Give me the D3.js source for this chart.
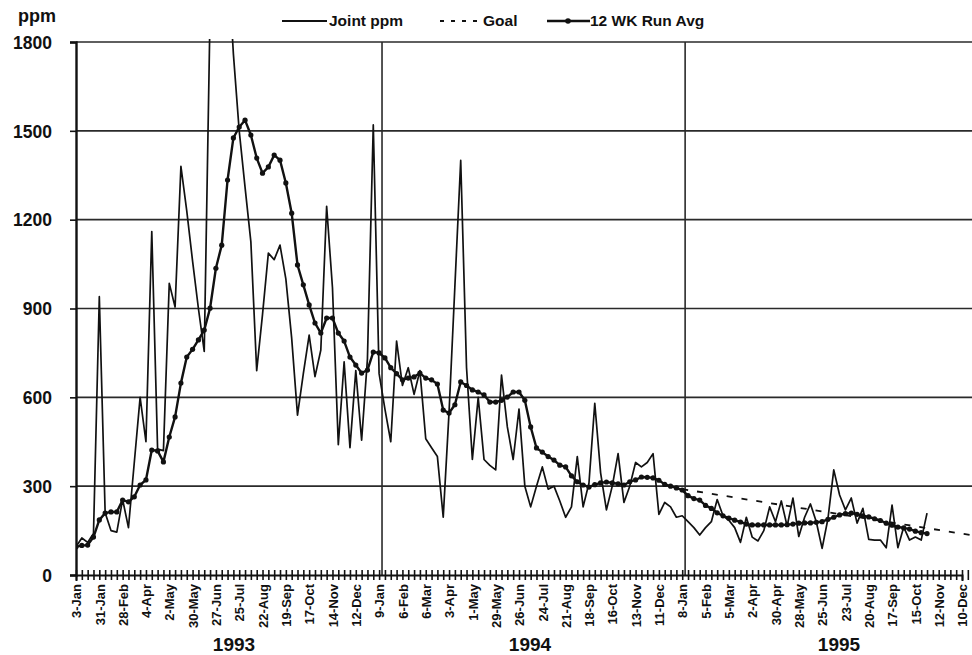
<!DOCTYPE html>
<html>
<head>
<meta charset="utf-8">
<script src="https://cdn.jsdelivr.net/npm/d3@7/dist/d3.min.js"></script>
<style>
  body { margin: 0; background: #fff; }
  text { font-family: "Liberation Sans", Arial, sans-serif; font-weight: bold; fill: #111; }
</style>
</head>
<body>
<script>
// x tick labels, one every 4 weekly categories
var tickLabels = [
  "3-Jan", "31-Jan", "28-Feb", "4-Apr", "2-May", "30-May", "27-Jun", "25-Jul", "22-Aug", "19-Sep", "17-Oct", "14-Nov", "12-Dec",
  "9-Jan", "6-Feb", "6-Mar", "3-Apr", "1-May", "29-May", "26-Jun", "24-Jul", "21-Aug", "18-Sep", "16-Oct", "13-Nov", "11-Dec",
  "8-Jan", "5-Feb", "5-Mar", "2-Apr", "30-Apr", "28-May", "25-Jun", "23-Jul", "20-Aug", "17-Sep", "15-Oct", "12-Nov", "10-Dec"
];
var yearLabels = ["1993", "1994", "1995"];
var yTicks = [0, 300, 600, 900, 1200, 1500, 1800];

// weekly joint ppm (values above 1800 run off the top of the chart)
var jointPpm = [
  95, 125, 110, 140, 940, 210, 150, 145, 255, 160,
  380, 600, 450, 1160, 425, 420, 985, 905, 1380, 1230,
  1060, 900, 755, 1900, 2300, 2300, 2100, 1760, 1500, 1310,
  1125, 690, 880, 1087, 1065, 1114, 1000, 800, 540, 680,
  810, 670, 760, 1245, 970, 440, 720, 430, 690, 455,
  730, 1520, 680, 560, 450, 790, 640, 700, 610, 690,
  460, 430, 400, 195, 550, 975, 1400, 700, 390, 600,
  390, 370, 355, 675, 500, 390, 560, 300, 230, 300,
  365, 290, 300, 250, 195, 230, 400, 230, 310, 580,
  345, 220, 300, 410, 245, 300, 380, 365, 380, 410,
  205, 245, 230, 195, 200, 180, 160, 135, 160, 180,
  255, 200, 185, 160, 110, 195, 128, 115, 150, 230,
  180, 250, 165, 260, 130, 195, 240, 180, 90, 190,
  355, 270, 220, 260, 175, 225, 120, 118, 118, 92,
  236, 92, 162, 118, 128, 118, 209
];

// 12 week running average
var runAvg = [
  95, 100, 101, 128, 186, 209, 213, 213, 253, 247,
  264, 304, 321, 422, 419, 382, 466, 534, 648, 736,
  762, 794, 827, 901, 1036, 1114, 1334, 1476, 1513, 1536,
  1486, 1408, 1357, 1378, 1418, 1401, 1324, 1222, 1047, 980,
  912, 851, 817, 868, 868, 817, 790, 736, 709, 682,
  692, 753, 750, 733, 700, 680, 659, 665, 669, 682,
  665, 659, 645, 557, 547, 575, 652, 640, 625, 618,
  608, 584, 584, 590, 601, 618, 618, 590, 500, 429,
  415, 400, 388, 371, 365, 335, 315, 304, 297, 305,
  311, 314, 311, 308, 304, 315, 321, 331, 330, 328,
  320, 306, 300, 294, 287, 268, 258, 253, 235, 225,
  210, 200, 192, 185, 179, 172, 169, 169, 169, 169,
  169, 169, 170, 172, 175, 176, 176, 178, 180, 188,
  195, 203, 207, 209, 205, 200, 196, 190, 184, 175,
  168, 162, 159, 155, 148, 143, 140
];

// goal line (week index, ppm)
var goalWeeks = [104, 155];
var goalPpm = [290, 130];

function init() {
  var width = 972, height = 655;
  var top = 42, bottom = 575, left = 76, right = 972;

  var svg = d3.select('body')
    .append('svg')
    .attr('width', width)
    .attr('height', height);

  var weeks = d3.range(tickLabels.length * 4);

  var xScale = d3.scaleLinear().domain([0, 152]).range([left, 962]),
    yScale = d3.scaleLinear().domain([0, 1800]).range([bottom, top]);

  //horizontal gridlines
  svg.append("g")
    .selectAll("line")
    .data(yTicks.slice(1))
    .enter().append("line")
    .attr("x1", left)
    .attr("x2", right)
    .attr("y1", function (d) { return yScale(d); })
    .attr("y2", function (d) { return yScale(d); })
    .attr("stroke", "#2a2a2a")
    .attr("stroke-width", 1.6);

  //vertical year gridlines
  svg.append("g")
    .selectAll("line")
    .data([52.5, 104.5])
    .enter().append("line")
    .attr("x1", function (d) { return xScale(d); })
    .attr("x2", function (d) { return xScale(d); })
    .attr("y1", top)
    .attr("y2", bottom)
    .attr("stroke", "#2a2a2a")
    .attr("stroke-width", 1.6);

  //add y axis
  var yAxis = svg.append("g")
    .attr("transform", "translate(" + left + ",0)")
    .call(d3.axisLeft(yScale).tickValues(yTicks).tickSize(6).tickPadding(18)
      .tickFormat(d3.format("d")));
  yAxis.select(".domain").attr("stroke", "#111").attr("stroke-width", 2.4);
  yAxis.selectAll(".tick line").attr("stroke", "#111").attr("stroke-width", 1.6);
  yAxis.selectAll("text")
    .style("font-size", "17.5px")
    .style("font-family", "'Liberation Sans', Arial, sans-serif")
    .style("font-weight", "bold")
    .attr("dy", "0.36em");

  //add x axis
  var xAxis = svg.append("g")
    .attr("transform", "translate(0," + bottom + ")")
    .call(d3.axisBottom(xScale)
      .tickValues(weeks)
      .tickFormat(function (d) { return d % 4 === 0 ? tickLabels[d / 4] : ""; }));
  xAxis.select(".domain").attr("stroke", "#111").attr("stroke-width", 2);
  xAxis.selectAll(".tick line")
    .attr("y1", -5)
    .attr("y2", 5)
    .attr("stroke", "#111")
    .attr("stroke-width", 1.6);
  xAxis.selectAll("text")
    .attr("transform", "rotate(-90)")
    .attr("x", -9)
    .attr("y", 0)
    .attr("dy", "0.36em")
    .style("text-anchor", "end")
    .style("font-size", "13px")
    .style("font-family", "'Liberation Sans Narrow', 'Liberation Sans', Arial, sans-serif")
    .style("font-weight", "bold");

  //year labels
  svg.selectAll(".year")
    .data(yearLabels)
    .enter().append("text")
    .attr("class", "year")
    .attr("x", function (d, i) { return [234, 530, 839][i]; })
    .attr("y", 651)
    .attr("text-anchor", "middle")
    .style("font-size", "19px")
    .text(function (d) { return d; });

  //axis title
  svg.append("text")
    .attr("x", 37)
    .attr("y", 22)
    .attr("text-anchor", "middle")
    .style("font-size", "18px")
    .text("ppm");

  //clip to plot area
  svg.append("clipPath")
    .attr("id", "plot")
    .append("rect")
    .attr("x", left)
    .attr("y", top - 3)
    .attr("width", right - left)
    .attr("height", bottom - top + 3);

  var plot = svg.append("g").attr("clip-path", "url(#plot)");

  var line = d3.line()
    .x(function (d, i) { return xScale(i); })
    .y(function (d) { return yScale(d); });

  //joint ppm
  plot.append("path")
    .datum(jointPpm)
    .attr("fill", "none")
    .attr("stroke", "#111")
    .attr("stroke-width", 1.7)
    .attr("stroke-linejoin", "round")
    .attr("d", line);

  //goal
  var goalLine = d3.line()
    .x(function (d) { return xScale(d); })
    .y(function (d, i) { return yScale(goalPpm[i]); });
  plot.append("path")
    .datum(goalWeeks)
    .attr("fill", "none")
    .attr("stroke", "#111")
    .attr("stroke-width", 1.8)
    .attr("stroke-dasharray", "6,9")
    .attr("d", goalLine);

  //running average
  plot.append("path")
    .datum(runAvg)
    .attr("fill", "none")
    .attr("stroke", "#111")
    .attr("stroke-width", 2.4)
    .attr("stroke-linejoin", "round")
    .attr("d", line);

  plot.append("g")
    .selectAll("circle")
    .data(runAvg)
    .enter().append("circle")
    .attr("cx", function (d, i) { return xScale(i); })
    .attr("cy", function (d) { return yScale(d); })
    .attr("r", 2.6)
    .attr("fill", "#111");

  //legend
  var legend = svg.append("g").style("font-size", "15.5px");
  legend.append("line")
    .attr("x1", 282).attr("x2", 327).attr("y1", 21).attr("y2", 21)
    .attr("stroke", "#111").attr("stroke-width", 1.8);
  legend.append("text").attr("x", 329).attr("y", 26).text("Joint ppm");

  legend.append("line")
    .attr("x1", 440).attr("x2", 478).attr("y1", 21).attr("y2", 21)
    .attr("stroke", "#111").attr("stroke-width", 1.8)
    .attr("stroke-dasharray", "4,7");
  legend.append("text").attr("x", 483).attr("y", 26).text("Goal");

  legend.append("line")
    .attr("x1", 547).attr("x2", 590).attr("y1", 21).attr("y2", 21)
    .attr("stroke", "#111").attr("stroke-width", 2.6);
  legend.append("circle")
    .attr("cx", 568).attr("cy", 21).attr("r", 2.8).attr("fill", "#111");
  legend.append("text").attr("x", 590).attr("y", 26).text("12 WK Run Avg");
}

init();
</script>
</body>
</html>
